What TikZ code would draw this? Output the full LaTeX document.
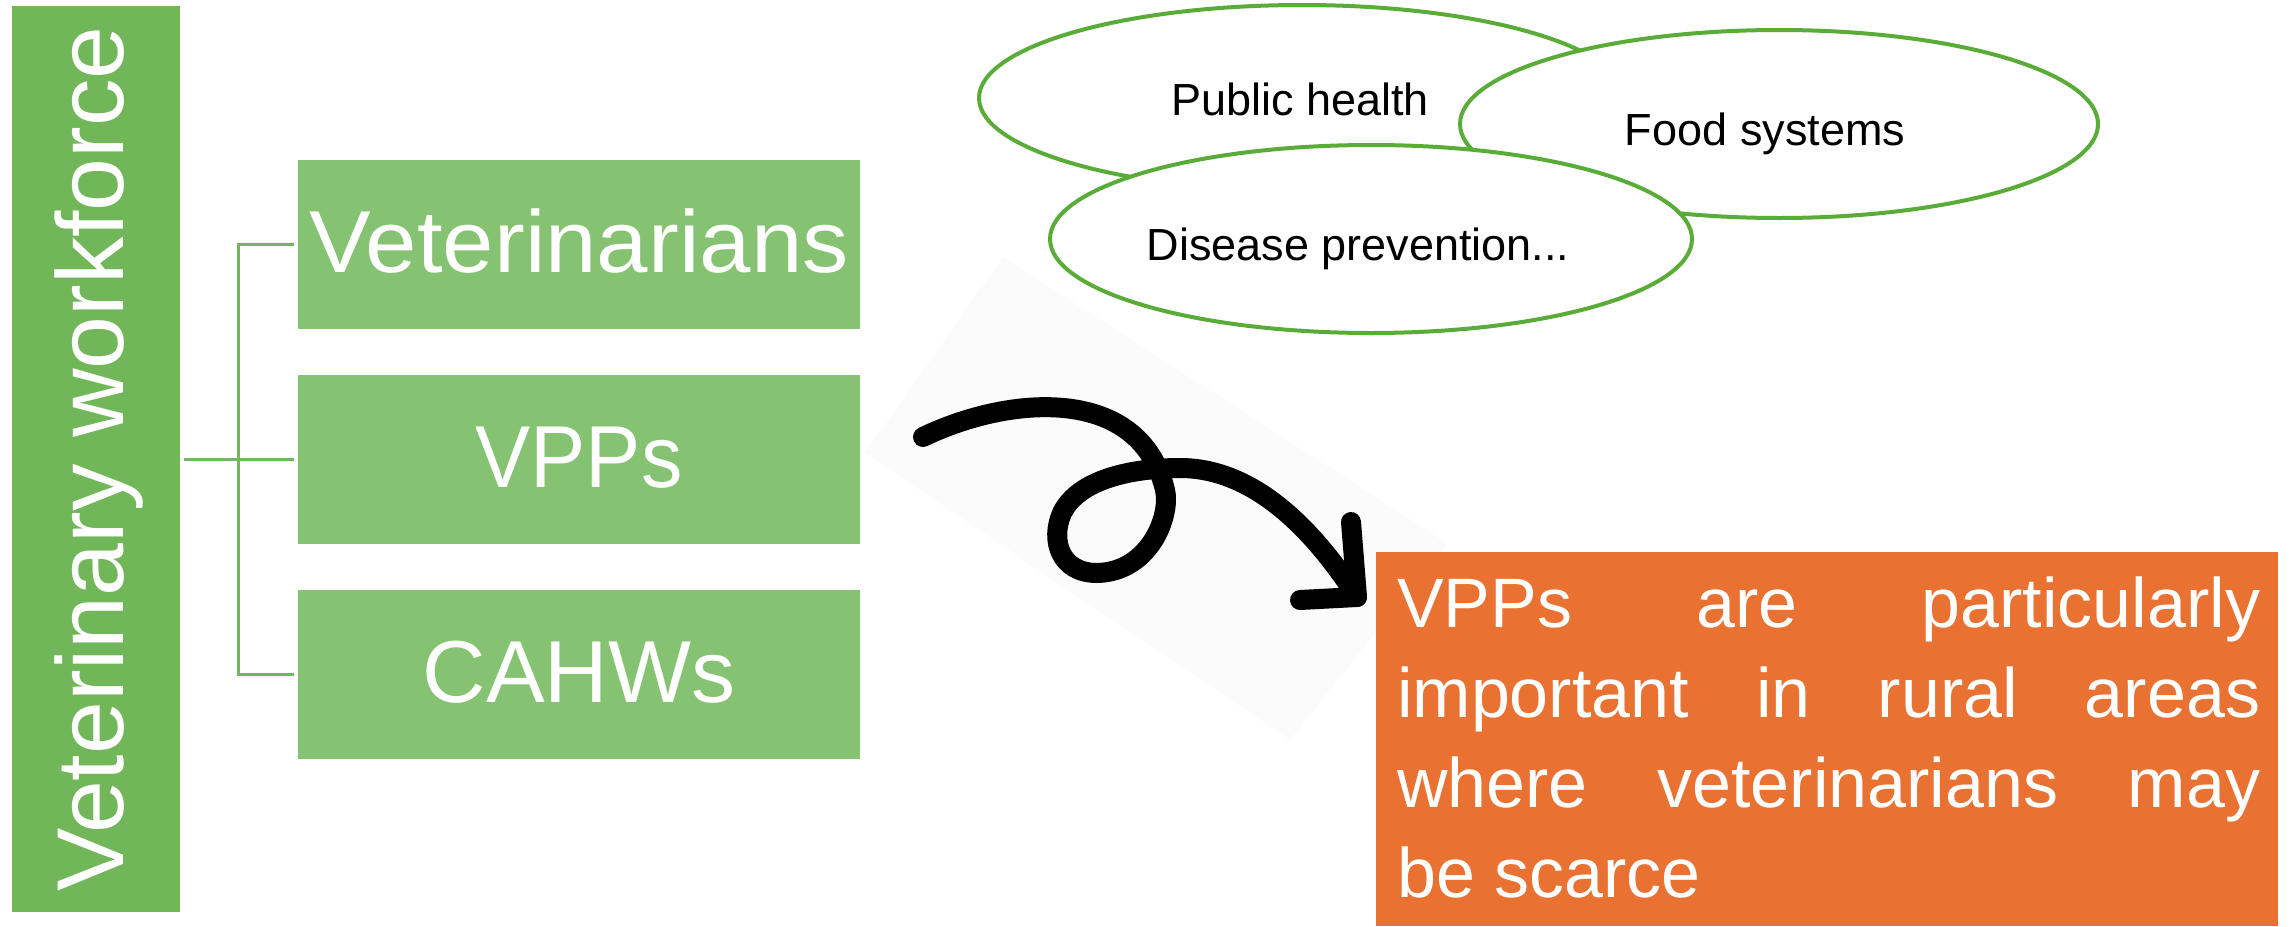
\documentclass[tikz,border=0pt]{standalone}
\usepackage{fontspec}
\setmainfont{Liberation Sans}
\usetikzlibrary{shapes.geometric}
\definecolor{barGreen}{HTML}{71B75A}
\definecolor{boxGreen}{HTML}{85C271}
\definecolor{lineGreen}{HTML}{74B562}
\definecolor{ellGreen}{HTML}{5AAC38}
\definecolor{noteOrange}{HTML}{E97132}
\definecolor{backdrop}{HTML}{FBFBFB}
\begin{document}
\begin{tikzpicture}[x=1pt,y=-1pt,
  bar/.style={fill=barGreen, rotate=90, minimum width=906pt, minimum height=168pt,
    inner sep=0pt, text=white, font=\fontsize{95}{100}\selectfont,
    text height=68pt, text depth=14pt},
  gbox/.style={fill=boxGreen, minimum width=562pt, minimum height=169pt,
    inner sep=0pt, text=white, font=\fontsize{88}{100}\selectfont,
    text height=63pt, text depth=7pt},
  conn/.style={draw=lineGreen, line width=3pt},
  ell/.style={ellipse, draw=ellGreen, line width=4pt, fill=white, inner sep=0pt},
  etext/.style={anchor=base, inner sep=0pt, font=\fontsize{45}{50}\selectfont},
  note/.style={fill=noteOrange, inner sep=0pt},
  notetext/.style={anchor=base west, inner sep=0pt, text=white},
  scribble/.style={draw=black, line width=20pt, line cap=round, line join=round}
]
\useasboundingbox (0,0) rectangle (2290,926);
% faint backdrop of the pasted arrow
\fill[backdrop] (1003,257) -- (865,453) -- (1290,740) -- (1447,543) -- cycle;

% left bar
\node[bar] (vw) at (96,459) {Veterinary workforce};

% green boxes
\node[gbox] (vet) at (579,244) {\scalebox{1.05}[1]{Veterinarians}};
\node[gbox] (vpp) at (579,459) {\scalebox{0.94}[1]{VPPs}};
\node[gbox] (cahw) at (579,674.5) {CAHWs};

% connectors
\draw[conn] ([xshift=-4pt]vet.west) -| ([xshift=-59.5pt]cahw.west) -- ([xshift=-4pt]cahw.west);
\draw[conn] ([xshift=4pt]vw.south) -- ([xshift=-4pt]vpp.west);

% ellipses
\node[ell, minimum width=646pt, minimum height=186pt] (e1) at (1302,98) {};
\node[etext] (ph) at (1300,115) {Public health};
\node[ell, minimum width=638pt, minimum height=188pt] (e2) at (1779,124) {};
\node[etext] (fs) at (1765,145) {Food systems};
\node[ell, minimum width=642pt, minimum height=188pt] (e3) at (1371,239) {};
\node[etext] (dp) at (1358,260) {Disease prevention...};

% orange note
\node[note, anchor=north west, minimum width=902pt, minimum height=374pt] (note) at (1376,552) {};
\node[notetext] (nt) at (1397,627) {\parbox[t]{863pt}{\fontsize{70}{90}\selectfont
  \makebox[\linewidth][s]{VPPs are particularly}\\
  \makebox[\linewidth][s]{important in rural areas}\\
  \makebox[\linewidth][s]{where veterinarians may}\\
  be scarce}};

% curly arrow
\coordinate (atail) at (923,437);
\coordinate (atip) at (1357,597);
\coordinate (armA) at (1351,522);
\coordinate (armB) at (1300,600);
\draw[scribble] (atail) .. controls (1010,395) and (1140,385) .. (1165,490)
  .. controls (1171,515) and (1150,572) .. (1097,573)
  .. controls (1060,573) and (1050,540) .. (1062,513)
  .. controls (1078,480) and (1130,468) .. (1180,468)
  .. controls (1260,468) and (1320,540) .. (atip);
\draw[scribble] (armA) -- (atip) -- (armB);
\end{tikzpicture}
\end{document}
